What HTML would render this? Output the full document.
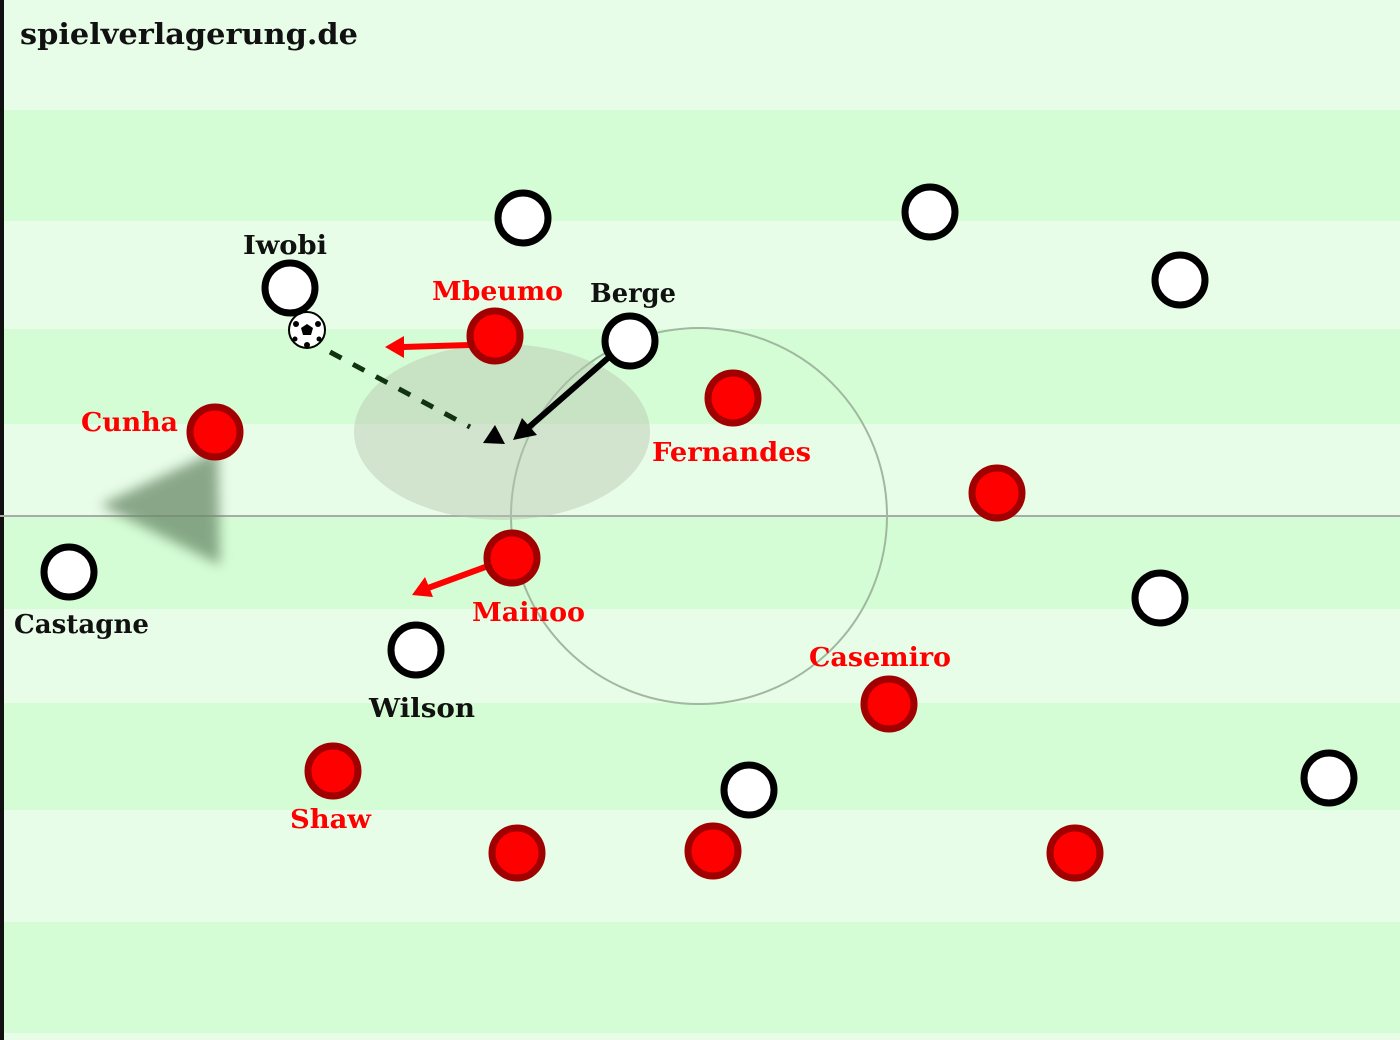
<!DOCTYPE html>
<html><head><meta charset="utf-8"><style>html,body{margin:0;padding:0}svg{display:block}</style></head>
<body>
<svg width="1400" height="1040" xmlns="http://www.w3.org/2000/svg">
<defs>
<filter id="bl" x="-50%" y="-50%" width="200%" height="200%"><feGaussianBlur stdDeviation="6"/></filter>
</defs>
<rect width="1400" height="1040" fill="#e8fde8"/>
<g fill="#d5fdd5">
<rect y="110" width="1400" height="111"/>
<rect y="329" width="1400" height="95"/>
<rect y="516" width="1400" height="93"/>
<rect y="703" width="1400" height="107"/>
<rect y="922" width="1400" height="111"/>
</g>
<rect x="0" y="0" width="4" height="1040" fill="#111"/>
<line x1="0" y1="516" x2="1400" y2="516" stroke="#aaa" stroke-width="2"/>
<circle cx="699" cy="516" r="188" fill="none" stroke="#9fb89f" stroke-width="2"/>
<ellipse cx="502" cy="432" rx="148" ry="88" fill="#b8c4b0" opacity="0.45"/>
<polygon points="100,505 218,450 220,565" fill="#6a8a6a" opacity="0.75" filter="url(#bl)"/>
<text x="20" y="44" font-family="DejaVu Serif, serif" font-weight="bold" font-size="29" textLength="338" lengthAdjust="spacingAndGlyphs" fill="#111">spielverlagerung.de</text>
<line x1="330" y1="352" x2="470" y2="427" stroke="#113311" stroke-width="5" stroke-dasharray="13,13"/>
<polygon points="483,443 505,444 495,425" fill="#000"/>
<line x1="608" y1="358" x2="528" y2="428" stroke="#000" stroke-width="6"/>
<polygon points="513,440 522,418 537,435" fill="#000"/>
<line x1="470" y1="345" x2="403" y2="347" stroke="#f00" stroke-width="6"/>
<polygon points="385,347 404,336 404,358" fill="#f00"/>
<line x1="488" y1="566" x2="428" y2="588" stroke="#f00" stroke-width="6"/>
<polygon points="412,595 425,577 433,597" fill="#f00"/>
<circle cx="307" cy="330" r="18" fill="#fff" stroke="#000" stroke-width="2"/>
<polygon points="307,324 313,328 311,335 303,335 301,328" fill="#000"/>
<circle cx="296" cy="324" r="3" fill="#000"/><circle cx="318" cy="324" r="3" fill="#000"/><circle cx="307" cy="345" r="3" fill="#000"/><circle cx="295" cy="339" r="2.5" fill="#000"/><circle cx="319" cy="339" r="2.5" fill="#000"/>
<g fill="#fff" stroke="#000" stroke-width="7">
<circle cx="523" cy="218" r="25"/><circle cx="930" cy="212" r="25"/><circle cx="1180" cy="280" r="25"/>
<circle cx="290" cy="288" r="25"/><circle cx="630" cy="341" r="25"/><circle cx="69" cy="572" r="25"/>
<circle cx="416" cy="650" r="25"/><circle cx="1160" cy="598" r="25"/><circle cx="749" cy="790" r="25"/><circle cx="1329" cy="778" r="25"/>
</g>
<g fill="#f00" stroke="#a00000" stroke-width="7">
<circle cx="495" cy="336" r="25"/><circle cx="733" cy="398" r="25"/><circle cx="215" cy="432" r="25"/>
<circle cx="997" cy="493" r="25"/><circle cx="512" cy="558" r="25"/><circle cx="889" cy="704" r="25"/>
<circle cx="333" cy="771" r="25"/><circle cx="517" cy="853" r="25"/><circle cx="713" cy="851" r="25"/><circle cx="1075" cy="853" r="25"/>
</g>
<g font-family="DejaVu Serif, serif" font-weight="bold" font-size="26" lengthAdjust="spacingAndGlyphs">
<text x="243" y="254" fill="#111" textLength="84" lengthAdjust="spacingAndGlyphs">Iwobi</text>
<text x="590" y="302" fill="#111" textLength="86" lengthAdjust="spacingAndGlyphs">Berge</text>
<text x="432" y="300" fill="#f00" textLength="131" lengthAdjust="spacingAndGlyphs">Mbeumo</text>
<text x="81" y="431" fill="#f00" textLength="97" lengthAdjust="spacingAndGlyphs">Cunha</text>
<text x="652" y="461" fill="#f00" textLength="159" lengthAdjust="spacingAndGlyphs">Fernandes</text>
<text x="472" y="621" fill="#f00" textLength="113" lengthAdjust="spacingAndGlyphs">Mainoo</text>
<text x="14" y="633" fill="#111" textLength="135" lengthAdjust="spacingAndGlyphs">Castagne</text>
<text x="369" y="717" fill="#111" textLength="106" lengthAdjust="spacingAndGlyphs">Wilson</text>
<text x="809" y="666" fill="#f00" textLength="142" lengthAdjust="spacingAndGlyphs">Casemiro</text>
<text x="290" y="828" fill="#f00" textLength="81" lengthAdjust="spacingAndGlyphs">Shaw</text>
</g>
</svg>
</body></html>
